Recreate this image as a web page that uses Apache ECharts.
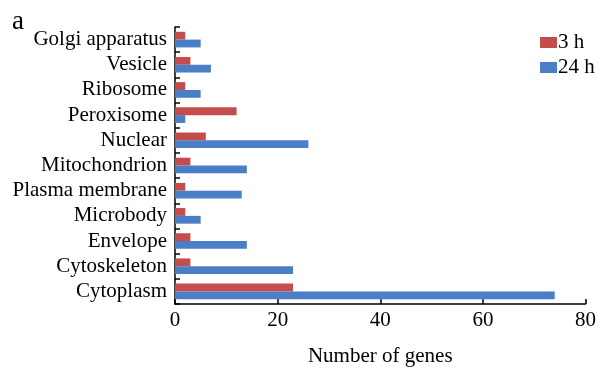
<!DOCTYPE html>
<html><head><meta charset="utf-8">
<script src="https://cdn.jsdelivr.net/npm/echarts@6/dist/echarts.min.js"></script>
<style>html,body{margin:0;padding:0;background:#fff}#c{width:599px;height:372px}</style>
</head><body><div id="c"></div>
<script>
const categories = ["Golgi apparatus","Vesicle","Ribosome","Peroxisome","Nuclear","Mitochondrion","Plasma membrane","Microbody","Envelope","Cytoskeleton","Cytoplasm"];
const values3h = [2,3,2,12,6,3,2,2,3,3,23];
const values24h = [5,7,5,2,26,14,13,5,14,23,74];
const xTicks = [0,20,40,60,80];
const seriesNames = ["3 h","24 h"];

const font = "'Liberation Serif','Times New Roman',serif";
const chart = echarts.init(document.getElementById('c'));
chart.setOption({
  animation:false,
  backgroundColor:'#fff',
  title:{text:'a',left:7,top:3,textStyle:{fontFamily:font,fontSize:27,fontWeight:'normal',color:'#000'}},
  legend:{orient:'vertical',left:535,top:27,itemWidth:17,itemHeight:11,itemGap:4,
    data:seriesNames,
    textStyle:{fontFamily:font,fontSize:21,color:'#000',padding:[0,0,0,-4]},icon:'rect'},
  grid:{left:175,right:11,top:27,bottom:65,containLabel:false},
  xAxis:{type:'value',min:xTicks[0],max:xTicks[xTicks.length-1],interval:20,
    name:'Number of genes',nameLocation:'middle',nameGap:42,
    nameTextStyle:{fontFamily:font,fontSize:21,color:'#000'},
    axisLine:{show:true,lineStyle:{color:'#000',width:1.5}},
    axisTick:{show:true,inside:true,length:5,lineStyle:{color:'#000',width:1.5}},
    axisLabel:{fontFamily:font,fontSize:21,color:'#000',margin:6},
    splitLine:{show:false}},
  yAxis:{type:'category',data:categories,inverse:true,
    axisLine:{show:true,lineStyle:{color:'#000',width:1.5}},
    axisTick:{show:true,inside:true,length:5,lineStyle:{color:'#000',width:1.5}},
    axisLabel:{fontFamily:font,fontSize:21,color:'#000',margin:8,interval:0}},
  series:[
    {name:seriesNames[0],type:'bar',data:values3h,barCategoryGap:'38%',barGap:'0%',itemStyle:{color:'#C64B4B'}},
    {name:seriesNames[1],type:'bar',data:values24h,barCategoryGap:'38%',barGap:'0%',itemStyle:{color:'#4A7EC6'}}
  ]
});
</script></body></html>
